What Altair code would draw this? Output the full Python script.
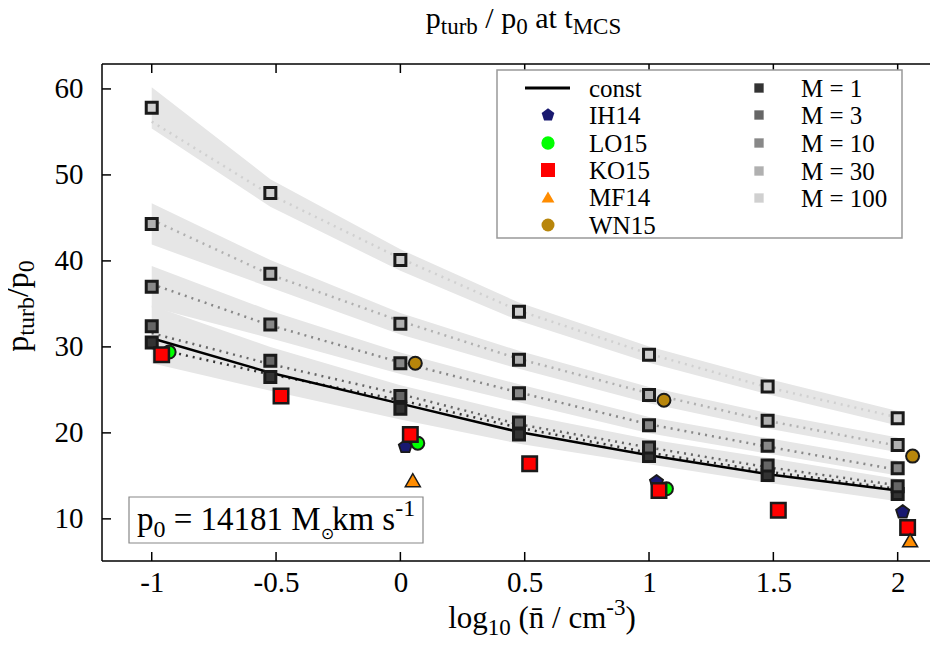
import altair as alt
import pandas as pd

# ---------------- data ----------------
x_log_n = [-1.0, -0.523, 0.0, 0.477, 1.0, 1.477, 2.0]
m_names = ["M = 1", "M = 3", "M = 10", "M = 30", "M = 100"]
m_colors = ["#333333", "#666666", "#888888", "#b0b0b0", "#d0d0d0"]
sim_m1 = [30.5, 26.5, 22.8, 19.8, 17.3, 15.1, 12.9]
sim_m3 = [32.4, 28.4, 24.3, 21.2, 18.3, 16.2, 13.8]
sim_m10 = [37.0, 32.6, 28.1, 24.6, 20.9, 18.5, 15.9]
sim_m30 = [44.3, 38.5, 32.7, 28.5, 24.4, 21.4, 18.6]
sim_m100 = [57.8, 47.9, 40.1, 34.1, 29.1, 25.4, 21.7]
band_halfwidth = [2.4, 1.6, 1.25, 1.05, 0.95, 0.9, 0.85]
fit_m1 = [29.9, 26.8, 23.8, 20.6, 17.7, 15.5, 13.5]
fit_m3 = [31.6, 28.0, 24.5, 21.0, 18.3, 16.0, 13.9]
fit_m10 = [37.3, 32.5, 28.2, 24.7, 21.0, 18.4, 15.7]
fit_m30 = [44.8, 38.4, 33.0, 28.6, 24.6, 21.4, 18.5]
fit_m100 = [56.2, 47.7, 40.3, 34.2, 29.2, 25.3, 21.8]
const_y = [31.0, 27.0, 23.4, 20.1, 17.4, 15.2, 13.3]

ih14_x = [0.02, 1.03, 2.02]
ih14_y = [18.4, 14.3, 10.8]
lo15_x = [-0.93, 0.07, 1.07]
lo15_y = [29.4, 18.8, 13.5]
ko15_x = [-0.96, -0.48, 0.04, 0.52, 1.04, 1.52, 2.04]
ko15_y = [29.1, 24.3, 19.8, 16.4, 13.3, 11.0, 9.0]
mf14_x = [0.05, 2.05]
mf14_y = [14.5, 7.5]
wn15_x = [0.06, 1.06, 2.06]
wn15_y = [28.1, 23.8, 17.3]

x_ticks = [-1, -0.5, 0, 0.5, 1, 1.5, 2]
x_tick_labels = ["-1", "-0.5", "0", "0.5", "1", "1.5", "2"]
y_ticks = [10, 20, 30, 40, 50, 60]

# ---------------- layout ----------------
W_PLOT, H_PLOT = 828, 497
PX, PY = 102, 64  # page position of plot origin
SERIF = "Liberation Serif"
PENTAGON = "M0,-1L0.951,-0.309L0.588,0.809L-0.588,0.809L-0.951,-0.309Z"

label_expr = ("[" + ",".join("'%s'" % s for s in x_tick_labels) + "][indexof(["
              + ",".join(str(v) for v in x_ticks) + "], datum.value)]")

xsc = alt.Scale(domain=[-1.2, 2.13], nice=False, zero=False)
ysc = alt.Scale(domain=[5.1, 62.9], nice=False, zero=False)
xax = alt.Axis(values=x_ticks, labelExpr=label_expr,
               ticks=False, tickSize=0, domain=False, grid=False, labelFont=SERIF,
               labelFontSize=29, labelColor="black", labelPadding=7, title=None,
               labelOverlap=False, labelFlush=False)
yax = alt.Axis(values=y_ticks, ticks=False, tickSize=0, domain=False, grid=False,
               labelFont=SERIF, labelFontSize=29, labelColor="black", labelPadding=19,
               title=None, labelOverlap=False)

sim_series = [sim_m1, sim_m3, sim_m10, sim_m30, sim_m100]
fit_series = [fit_m1, fit_m3, fit_m10, fit_m30, fit_m100]
rows = []
for name, ys, fs in zip(m_names, sim_series, fit_series):
    for xv, yv, fv, hw in zip(x_log_n, ys, fs, band_halfwidth):
        rows.append({"x": xv, "y": yv, "fit": fv, "lo": yv - hw, "hi": yv + hw, "M": name})
df_sim = pd.DataFrame(rows)
df_const = pd.DataFrame({"x": x_log_n, "y": const_y})

X = alt.X("x:Q", scale=xsc, axis=xax)
Y = lambda f: alt.Y(f, scale=ysc, axis=yax)
mscale = alt.Scale(domain=m_names, range=m_colors)

layers = []
layers.append(alt.Chart(df_sim).mark_area(color="#e6e6e6", opacity=1).encode(
    x=X, y=Y("lo:Q"), y2="hi:Q", detail="M:N"))
layers.append(alt.Chart(df_sim).mark_line(strokeDash=[2, 5], strokeWidth=2.5).encode(
    x=X, y=Y("fit:Q"), color=alt.Color("M:N", scale=mscale, legend=None), detail="M:N"))
layers.append(alt.Chart(df_const).mark_line(color="black", strokeWidth=2.5).encode(
    x=X, y=Y("y:Q")))
for name in m_names:
    layers.append(alt.Chart(df_sim[df_sim["M"] == name]).mark_point(
        shape="square", filled=True, size=121, stroke="#1a1a1a", strokeWidth=3, opacity=1).encode(
        x=X, y=Y("y:Q"), fill=alt.Fill("M:N", scale=mscale, legend=None)))

obs = [
    ("IH14", ih14_x, ih14_y, PENTAGON, "#191970", 190, 1.8),
    ("LO15", lo15_x, lo15_y, "circle", "#00ff00", 169, 2.0),
    ("KO15", ko15_x, ko15_y, "square", "#ff0000", 210, 2.5),
    ("MF14", mf14_x, mf14_y, "triangle-up", "#ff8c00", 225, 1.5),
    ("WN15", wn15_x, wn15_y, "circle", "#b8860b", 169, 2.0),
]
for name, xs, ys, shape, col, size, sw in obs:
    d = pd.DataFrame({"x": xs, "y": ys})
    layers.append(alt.Chart(d).mark_point(shape=shape, filled=True, fill=col, size=size,
                                          stroke="#1a1a1a", strokeWidth=sw, opacity=1).encode(
        x=X, y=Y("y:Q")))

# frame and inward ticks
one = pd.DataFrame({"k": [0]})
layers.append(alt.Chart(one).mark_rule(color="black", strokeWidth=1.5).encode(
    x=alt.value(0), x2=alt.value(W_PLOT), y=alt.value(0)))
layers.append(alt.Chart(one).mark_rule(color="black", strokeWidth=1.5).encode(
    x=alt.value(0), x2=alt.value(W_PLOT), y=alt.value(H_PLOT)))
layers.append(alt.Chart(one).mark_rule(color="black", strokeWidth=1.5).encode(
    x=alt.value(0), y=alt.value(0), y2=alt.value(H_PLOT)))
dxt = pd.DataFrame({"x": x_ticks})
dyt = pd.DataFrame({"y": y_ticks})
layers.append(alt.Chart(dxt).mark_rule(color="black", strokeWidth=1.5).encode(
    x=X, y=alt.value(0), y2=alt.value(9)))
layers.append(alt.Chart(dxt).mark_rule(color="black", strokeWidth=1.5).encode(
    x=X, y=alt.value(H_PLOT), y2=alt.value(H_PLOT - 9)))
layers.append(alt.Chart(dyt).mark_rule(color="black", strokeWidth=1.5).encode(
    x=alt.value(0), x2=alt.value(9), y=Y("y:Q")))


def rect(x1, y1, x2, y2, stroke="#999999", sw=1.5):
    return alt.Chart(one).mark_rect(fill="white", stroke=stroke, strokeWidth=sw).encode(
        x=alt.value(x1 - PX), x2=alt.value(x2 - PX), y=alt.value(y1 - PY), y2=alt.value(y2 - PY))


def txt(s, px, py, size, font=SERIF, angle=None, align="left"):
    kw = dict(align=align, baseline="alphabetic", font=font, fontSize=size, color="black")
    if angle is not None:
        kw["angle"] = angle
    return alt.Chart(one).mark_text(**kw).encode(
        x=alt.value(px - PX), y=alt.value(py - PY), text=alt.value(s))


WID = {'p': 0.5, 't': 0.278, 'u': 0.5, 'r': 0.333, 'b': 0.5, ' ': 0.25, '/': 0.278, '0': 0.5,
       'a': 0.444, 'M': 0.889, 'C': 0.667, 'S': 0.556, 'l': 0.278, 'o': 0.5, 'g': 0.5, '1': 0.5,
       '(': 0.333, 'n': 0.5, 'c': 0.444, 'm': 0.778, '-': 0.333, '3': 0.5, ')': 0.333, 'k': 0.5,
       's': 0.389, '=': 0.564, '4': 0.5, '8': 0.5, '\u0304': 0.0, '\u2299': 0.7}


def width(s, size):
    return sum(WID.get(c, 0.5) for c in s) * size


def seq(pieces, start, base, vertical=False):
    """Place text pieces one after another; spaces become offsets (SVG drops them)."""
    out = []
    pos = start
    for s, size, shift, *font in pieces:
        f = font[0] if font else SERIF
        core = s.strip(" ")
        lead = len(s) - len(s.lstrip(" "))
        pos_core = pos + (-1 if vertical else 1) * width(" " * lead, size)
        if vertical:
            out.append(txt(core, base + shift, pos_core, size, font=f, angle=270))
            pos -= width(s, size)
        else:
            out.append(txt(core, pos_core, base + shift, size, font=f))
            pos += width(s, size)
    return out


def total(pieces):
    return sum(width(p[0], p[1]) for p in pieces)


# legend
layers.append(rect(497, 70, 902, 238))
layers.append(alt.Chart(one).mark_rule(color="black", strokeWidth=3).encode(
    x=alt.value(525 - PX), x2=alt.value(570 - PX), y=alt.value(88 - PY)))
leg_left = [("const", 88, None, None, 0), ("IH14", 115, PENTAGON, "#191970", 178),
            ("LO15", 143, "circle", "#00ff00", 177), ("KO15", 170, "square", "#ff0000", 196),
            ("MF14", 197, "triangle-up", "#ff8c00", 165), ("WN15", 225, "circle", "#b8860b", 169)]
for lab, ry, shape, col, size in leg_left:
    if shape is not None:
        layers.append(alt.Chart(one).mark_point(shape=shape, filled=True, fill=col, size=size,
                                                strokeWidth=0, opacity=1).encode(
            x=alt.value(548 - PX), y=alt.value(ry - PY)))
    layers.append(txt(lab, 589, ry + 8.5, 25))
for (lab, col), ry in zip(zip(m_names, m_colors), [88, 115, 143, 171, 198]):
    layers.append(alt.Chart(one).mark_point(shape="square", filled=True, fill=col, size=87,
                                            strokeWidth=0, opacity=1).encode(
        x=alt.value(759 - PX), y=alt.value(ry - PY)))
    layers.append(txt(lab, 801, ry + 8.5, 25))

# annotation box
layers.append(rect(129, 497, 423, 543, stroke="#888888", sw=1.2))
ann = [("p", 33, 0), ("0", 24, 7), (" = 14181 M", 33, 0), ("\u2299", 16, 9, "DejaVu Sans"),
       ("km s", 33, 0), ("-1", 24, -14)]
layers += seq(ann, 137, 530)

# title
title = [("p", 30, 0), ("turb", 23, 6), (" / p", 30, 0), ("0", 23, 6), (" at t", 30, 0), ("MCS", 23, 6)]
layers += seq(title, 523.5 - total(title) / 2, 28)

# x label
xl = [("log", 31, 0), ("10", 23, 7), (" (n\u0304 / cm", 31, 0), ("-3", 23, -13), (")", 31, 0)]
layers += seq(xl, 542 - total(xl) / 2, 628)

# y label
yl = [("p", 32, 0), ("turb", 24, 6), ("/p", 32, 0), ("0", 24, 6)]
layers += seq(yl, 306 + total(yl) / 2, 28, vertical=True)

chart = alt.layer(*layers).properties(
    width=W_PLOT, height=H_PLOT,
    padding={"left": 94, "top": 56, "right": 0, "bottom": 77},
    autosize=alt.AutoSizeParams(type="none"),
).configure_view(stroke=None)

chart.save("out.html", embed_options={"renderer": "svg", "actions": False})
